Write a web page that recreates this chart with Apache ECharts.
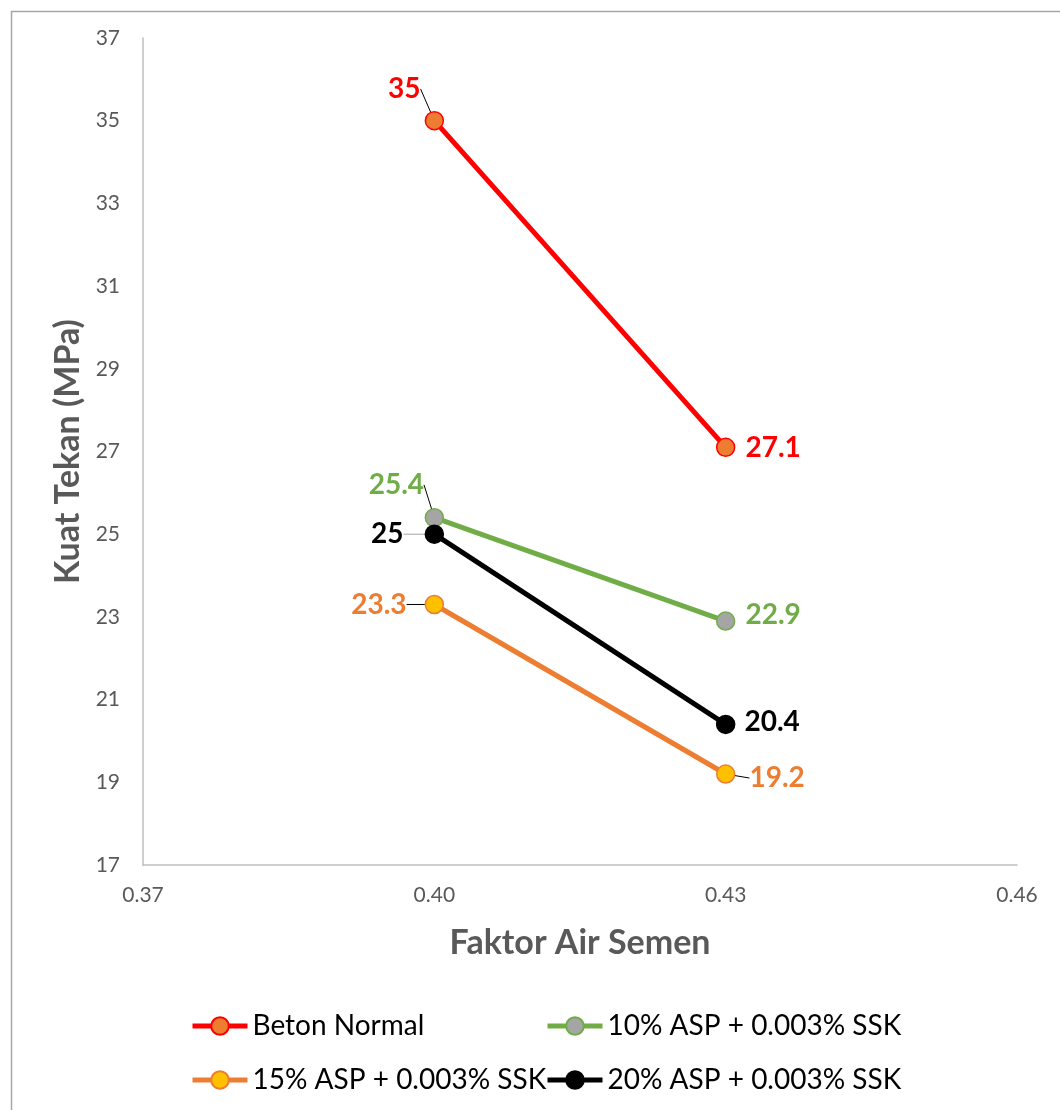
<!DOCTYPE html>
<html>
<head>
<meta charset="utf-8">
<script src="https://cdn.jsdelivr.net/npm/echarts@6/dist/echarts.min.js"></script>
<style>
html,body{margin:0;padding:0;background:#fff;}
#chart{width:1060px;height:1110px;}
</style>
</head>
<body>
<div id="chart"></div>
<script>
// ---- data ----
const xValues = [0.40, 0.43];
const seriesNames = ['Beton Normal', '10% ASP + 0.003% SSK', '15% ASP + 0.003% SSK', '20% ASP + 0.003% SSK'];
const betonNormal = [35, 27.1];
const asp10 = [25.4, 22.9];
const asp15 = [23.3, 19.2];
const asp20 = [25, 20.4];
const xTickLabels = [0.37, 0.40, 0.43, 0.46];
const yTickLabels = [17, 19, 21, 23, 25, 27, 29, 31, 33, 35, 37];
const xTitle = 'Faktor Air Semen';
const yTitle = 'Kuat Tekan (MPa)';

// ---- styles ----
const FONT = 'Lato';
const styles = [
  {line:'#FF0000', fill:'#ED7D31', border:'#FF0000', label:'#FF0000', pos:['top','right'], off:[[-30,0],[2,1]], leader:['#000', null]},
  {line:'#70AD47', fill:'#A5A5A5', border:'#70AD47', label:'#70AD47', pos:['top','right'], off:[[-38,-1],[2,-6]], leader:['#000', null]},
  {line:'#ED7D31', fill:'#FFC000', border:'#ED7D31', label:'#ED7D31', pos:['left','right'], off:[[-10,0],[6,4]], leader:['#000','#000']},
  {line:'#000000', fill:'#000000', border:'#000000', label:'#000000', pos:['left','right'], off:[[-13,0],[1,-2]], leader:['#A5A5A5', null]}
];
const values = [betonNormal, asp10, asp15, asp20];

const series = values.map((vals, si) => {
  const st = styles[si];
  return {
    name: seriesNames[si],
    type: 'line',
    symbol: 'circle',
    symbolSize: 18,
    z: 2 + si,
    lineStyle: {color: st.line, width: 5},
    itemStyle: {color: st.fill, borderColor: st.border, borderWidth: 1.5},
    data: vals.map((v, i) => ({
      value: [xValues[i], v],
      label: {position: st.pos[i]},
      labelLine: st.leader[i] ? {show: true, lineStyle: {color: st.leader[i], width: 1}} : {show: false}
    })),
    label: {
      show: true,
      distance: 8,
      color: st.label,
      fontFamily: FONT,
      fontWeight: 'bold',
      fontSize: 28,
      formatter: p => String(p.value[1])
    },
    labelLayout: p => ({dx: st.off[p.dataIndex][0], dy: st.off[p.dataIndex][1]}),
    labelLine: {show: true, lineStyle: {color: '#000', width: 1}},
    emphasis: {disabled: true}
  };
});

function legendAt(name, left, top) {
  return {
    data: [name],
    left: left, top: top,
    padding: 0,
    itemWidth: 55, itemHeight: 22, itemGap: 0,
    lineStyle: {width: 5},
    textStyle: {fontFamily: FONT, fontSize: 28, color: '#000'},
    selectedMode: false
  };
}

const chart = echarts.init(document.getElementById('chart'), null, {renderer: 'canvas'});
chart.setOption({
  animation: false,
  backgroundColor: '#fff',
  grid: {left: 143, right: 43, top: 38, bottom: 245, containLabel: false},
  xAxis: {
    type: 'value', min: 0.37, max: 0.46,
    name: xTitle, nameLocation: 'middle', nameGap: 61,
    nameTextStyle: {fontFamily: FONT, fontWeight: 'bold', fontSize: 34, color: '#595959'},
    axisLine: {show: true, lineStyle: {color: '#BFBFBF', width: 1.5}},
    axisTick: {show: false},
    splitLine: {show: false},
    axisLabel: {customValues: xTickLabels, formatter: v => v.toFixed(2), fontFamily: FONT, fontSize: 21, color: '#595959', margin: 20}
  },
  yAxis: {
    type: 'value', min: 17, max: 37,
    name: yTitle, nameLocation: 'middle', nameGap: 58,
    nameTextStyle: {fontFamily: FONT, fontWeight: 'bold', fontSize: 34, color: '#595959'},
    axisLine: {show: true, lineStyle: {color: '#BFBFBF', width: 1.5}},
    axisTick: {show: false},
    splitLine: {show: false},
    axisLabel: {customValues: yTickLabels, fontFamily: FONT, fontSize: 21, color: '#595959', margin: 23}
  },
  legend: [
    legendAt(seriesNames[0], 190, 1012),
    legendAt(seriesNames[1], 545, 1012),
    legendAt(seriesNames[2], 190, 1066),
    legendAt(seriesNames[3], 545, 1066)
  ],
  graphic: [{
    type: 'rect', left: 9, top: 9, silent: true,
    shape: {width: 1060, height: 1110},
    style: {fill: 'none', stroke: '#A6A6A6', lineWidth: 1.5}
  }],
  series: series
});
</script>
</body>
</html>
